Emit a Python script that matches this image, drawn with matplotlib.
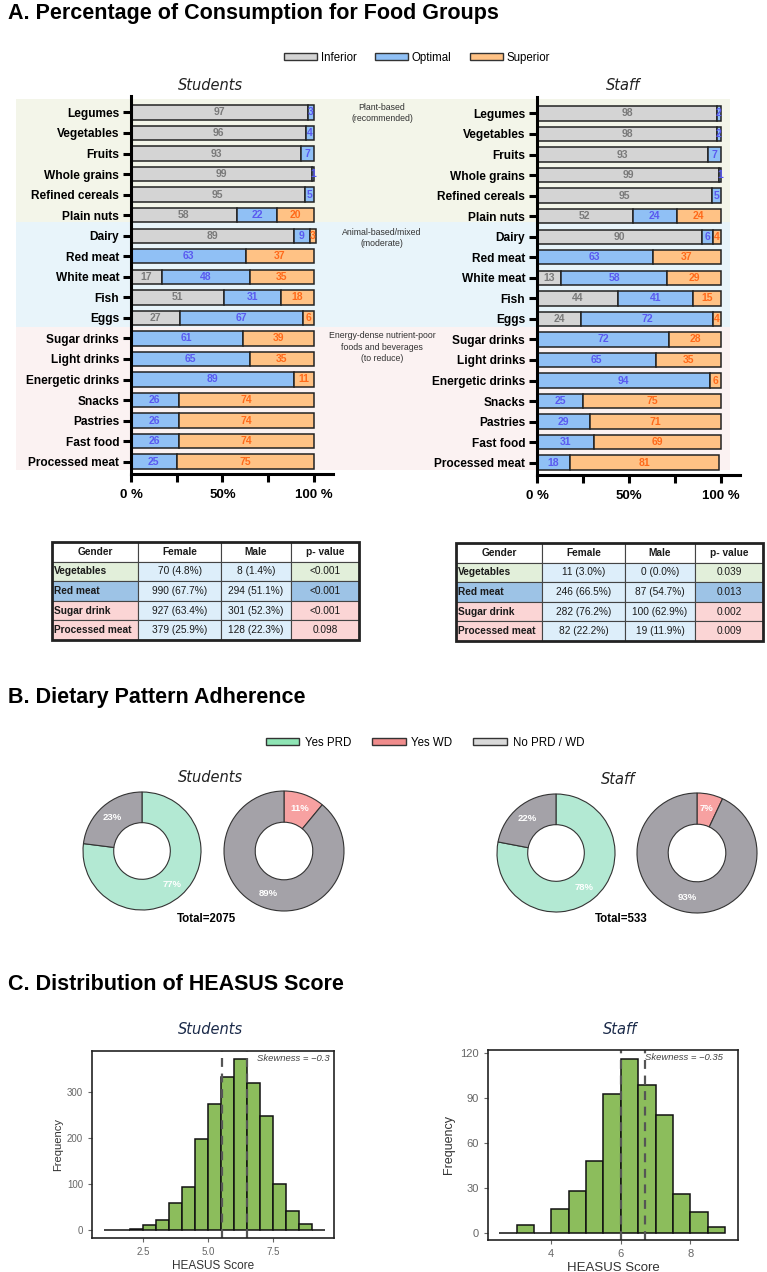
import numpy as np
import matplotlib
matplotlib.use('Agg')
import matplotlib.pyplot as plt
from matplotlib.patches import Rectangle, Patch

plt.rcParams['font.family'] = ['Liberation Sans', 'DejaVu Sans']

# ---- data ----
foods = ['Legumes', 'Vegetables', 'Fruits', 'Whole grains', 'Refined cereals', 'Plain nuts',
         'Dairy', 'Red meat', 'White meat', 'Fish', 'Eggs',
         'Sugar drinks', 'Light drinks', 'Energetic drinks', 'Snacks', 'Pastries',
         'Fast food', 'Processed meat']
stu_inferior = [97, 96, 93, 99, 95, 58, 89, 0, 17, 51, 27, 0, 0, 0, 0, 0, 0, 0]
stu_optimal = [3, 4, 7, 1, 5, 22, 9, 63, 48, 31, 67, 61, 65, 89, 26, 26, 26, 25]
stu_superior = [0, 0, 0, 0, 0, 20, 3, 37, 35, 18, 6, 39, 35, 11, 74, 74, 74, 75]
staff_inferior = [98, 98, 93, 99, 95, 52, 90, 0, 13, 44, 24, 0, 0, 0, 0, 0, 0, 0]
staff_optimal = [2, 2, 7, 1, 5, 24, 6, 63, 58, 41, 72, 72, 65, 94, 25, 29, 31, 18]
staff_superior = [0, 0, 0, 0, 0, 24, 4, 37, 29, 15, 4, 28, 35, 6, 75, 71, 69, 81]
group_labels = ['Plant-based\n(recommended)', 'Animal-based/mixed\n(moderate)',
                'Energy-dense nutrient-poor\nfoods and beverages\n(to reduce)']

tbl_cols = ['Gender', 'Female', 'Male', 'p- value']
tbl_rows = ['Vegetables', 'Red meat', 'Sugar drink', 'Processed meat']
stu_female = ['70 (4.8%)', '990 (67.7%)', '927 (63.4%)', '379 (25.9%)']
stu_male = ['8 (1.4%)', '294 (51.1%)', '301 (52.3%)', '128 (22.3%)']
stu_p = ['<0.001', '<0.001', '<0.001', '0.098']
staff_female = ['11 (3.0%)', '246 (66.5%)', '282 (76.2%)', '82 (22.2%)']
staff_male = ['0 (0.0%)', '87 (54.7%)', '100 (62.9%)', '19 (11.9%)']
staff_p = ['0.039', '0.013', '0.002', '0.009']

pattern_names = ['Yes PRD', 'Yes WD', 'No PRD / WD']
stu_prd = [77, 23]
stu_wd = [11, 89]
staff_prd = [78, 22]
staff_wd = [7, 93]
stu_total = 2075
staff_total = 533

stu_bins = [1.0, 1.5, 2.0, 2.5, 3.0, 3.5, 4.0, 4.5, 5.0, 5.5, 6.0, 6.5, 7.0, 7.5, 8.0, 8.5, 9.0]
stu_counts = [0, 0, 2, 12, 23, 60, 93, 198, 275, 333, 372, 319, 248, 101, 41, 14, 0]
stu_lines = [5.55, 6.5]
staff_bins = [2.5, 3.0, 3.5, 4.0, 4.5, 5.0, 5.5, 6.0, 6.5, 7.0, 7.5, 8.0, 8.5]
staff_counts = [0, 5, 0, 16, 28, 48, 93, 116, 99, 79, 26, 14, 4]
staff_lines = [6.0, 6.7]

# ---- colours ----
c_inf, c_opt, c_sup = '#d4d4d4', '#90c0f5', '#ffc285'
t_inf, t_opt, t_sup = '#7a7a7a', '#5a5af0', '#ff6a1a'
band_cols = ['#f3f5e9', '#e8f4fa', '#fbf2f2']
row_cols = ['#e2efda', '#9dc3e6', '#fbd5d5', '#fbd5d5']

W, H = 767, 1272
fig = plt.figure(figsize=(W / 100, H / 100), dpi=100)


def px_axes(x0, y0, x1, y1):
    return fig.add_axes([x0 / W, 1 - y1 / H, (x1 - x0) / W, (y1 - y0) / H])


# ================= A =================
fig.text(8 / W, 1 - 14 / H, 'A. Percentage of Consumption for Food Groups',
         fontsize=15.5, fontweight='bold', va='center')

# background bands
for (y0, y1), col in zip([(99, 222), (222, 327), (327, 470)], band_cols):
    fig.add_artist(Rectangle((16 / W, 1 - y1 / H), (730 - 16) / W, (y1 - y0) / H,
                             transform=fig.transFigure, facecolor=col,
                             edgecolor='none', zorder=-5))

for txt, yc in zip(group_labels, [113, 238, 347]):
    fig.text(382 / W, 1 - yc / H, txt, fontsize=6.3, ha='center', va='center',
             color='#333', linespacing=1.3)

handles = [Patch(facecolor=c_inf, edgecolor='#333', label='Inferior'),
           Patch(facecolor=c_opt, edgecolor='#333', label='Optimal'),
           Patch(facecolor=c_sup, edgecolor='#333', label='Superior')]
fig.legend(handles=handles, loc='center', bbox_to_anchor=(417 / W, 1 - 58 / H),
           ncol=3, frameon=False, fontsize=8.3, handlelength=2.9, handleheight=0.55,
           columnspacing=1.6, handletextpad=0.3)


def stacked(ax, inf, opt, sup):
    y = np.arange(len(foods))
    left = np.zeros(len(foods))
    for vals, fc, tc in [(inf, c_inf, t_inf), (opt, c_opt, t_opt), (sup, c_sup, t_sup)]:
        vals = np.array(vals, float)
        m = vals > 0
        ax.barh(y[m], vals[m], left=left[m], height=0.7, color=fc,
                edgecolor='#222', linewidth=1.1)
        for yi, l, v in zip(y[m], left[m], vals[m]):
            ax.text(l + v / 2, yi, str(int(v)), ha='center', va='center',
                    color=tc, fontsize=7.5, fontweight='bold')
        left += vals
    ax.set_xlim(0, 110.5)
    ax.set_ylim(17.6, -0.8)
    ax.set_facecolor('none')
    for s in ['top', 'right']:
        ax.spines[s].set_visible(False)
    for s in ['left', 'bottom']:
        ax.spines[s].set_linewidth(2.2)
    ax.set_yticks(y)
    ax.set_yticklabels(foods, fontweight='bold', fontsize=8.6)
    ax.set_xticks([0, 50, 100])
    ax.set_xticklabels(['0 %', '50%', '100 %'], fontweight='bold', fontsize=9.5)
    ax.set_xticks([25, 75], minor=True)
    ax.tick_params(axis='both', which='both', width=2.2, length=6)
    ax.tick_params(axis='y', pad=2.5)
    ax.tick_params(axis='x', pad=5)


ax_s = px_axes(131, 96, 333, 474)
stacked(ax_s, stu_inferior, stu_optimal, stu_superior)
ax_t = px_axes(537, 97, 740, 475)
stacked(ax_t, staff_inferior, staff_optimal, staff_superior)
fig.text(210 / W, 1 - 85 / H, 'Students', fontsize=10.5, style='italic',
         family='DejaVu Sans', ha='center', va='center', color='#222')
fig.text(623 / W, 1 - 86 / H, 'Staff', fontsize=10.5, style='italic',
         family='DejaVu Sans', ha='center', va='center', color='#222')


# tables
def draw_table(ax, female, male, pvals):
    widths = [86, 83, 70, 68]
    xs = np.concatenate([[0], np.cumsum(widths)])
    ax.set_xlim(0, xs[-1])
    ax.set_ylim(5, 0)
    ax.axis('off')
    cells = [tbl_cols] + [[r, f, m, p] for r, f, m, p in zip(tbl_rows, female, male, pvals)]
    for i, row in enumerate(cells):
        for j, txt in enumerate(row):
            if i == 0:
                fc = 'white'
            elif j in (0, 3):
                fc = row_cols[i - 1]
            else:
                fc = '#ddeefa'
            ax.add_patch(Rectangle((xs[j], i), widths[j], 1, facecolor=fc,
                                   edgecolor='#444', lw=0.8))
            if j == 0 and i > 0:
                ax.text(xs[j] + 2, i + 0.5, txt, ha='left', va='center',
                        fontsize=7.3, fontweight='bold', color='#1a1a1a')
            else:
                ax.text(xs[j] + widths[j] / 2, i + 0.5, txt, ha='center', va='center',
                        fontsize=7.3, fontweight='bold' if i == 0 else 'normal',
                        color='#1a1a1a')
    ax.add_patch(Rectangle((0, 0), xs[-1], 5, fill=False, edgecolor='#222', lw=2,
                           clip_on=False))


draw_table(px_axes(52, 542, 359, 640), stu_female, stu_male, stu_p)
draw_table(px_axes(456, 543, 763, 641), staff_female, staff_male, staff_p)

# ================= B =================
fig.text(8 / W, 1 - 698 / H, 'B. Dietary Pattern Adherence',
         fontsize=15.5, fontweight='bold', va='center')
leg_b = [Patch(facecolor='#8fe5b5', edgecolor='#333', label=pattern_names[0]),
         Patch(facecolor='#f08c8c', edgecolor='#333', label=pattern_names[1]),
         Patch(facecolor='#d9d9d9', edgecolor='#333', label=pattern_names[2])]
fig.legend(handles=leg_b, loc='center', bbox_to_anchor=(425 / W, 1 - 743 / H),
           ncol=3, frameon=False, fontsize=8.3, handlelength=2.9, handleheight=0.55,
           columnspacing=1.8, handletextpad=0.5)

g_green, g_pink, g_gray = '#b3e9d3', '#f7a1a1', '#a4a2a8'


def donut(cx, cy, r, vals, colors):
    ax = px_axes(cx - 1.1 * r, cy - 1.1 * r, cx + 1.1 * r, cy + 1.1 * r)
    ax.pie(vals, colors=colors, startangle=90, counterclock=False, radius=1,
           wedgeprops=dict(width=0.52, edgecolor='#333', linewidth=0.8),
           autopct='%.0f%%', pctdistance=0.76,
           textprops=dict(color='white', fontsize=6.8, fontweight='bold'))
    ax.set_xlim(-1.1, 1.1)
    ax.set_ylim(-1.1, 1.1)


donut(142, 851, 59, stu_prd, [g_green, g_gray])
donut(284, 851, 60, stu_wd, [g_pink, g_gray])
donut(556, 853, 59, staff_prd, [g_green, g_gray])
donut(697, 853, 60, staff_wd, [g_pink, g_gray])
fig.text(210 / W, 1 - 777 / H, 'Students', fontsize=10.5, style='italic',
         family='DejaVu Sans', ha='center', va='center', color='#222')
fig.text(618 / W, 1 - 780 / H, 'Staff', fontsize=10.5, style='italic',
         family='DejaVu Sans', ha='center', va='center', color='#222')
fig.text(207 / W, 1 - 919 / H, f'Total={stu_total}', fontsize=8.3, fontweight='bold',
         ha='center', va='center')
fig.text(621 / W, 1 - 919 / H, f'Total={staff_total}', fontsize=8.3, fontweight='bold',
         ha='center', va='center')

# ================= C =================
fig.text(8 / W, 1 - 985 / H, 'C. Distribution of HEASUS Score',
         fontsize=15.5, fontweight='bold', va='center')


def hist(ax, bins, counts, lines, xlim, ylim, xt, yt, skew, skew_x, skew_ha, fs):
    ax.bar(bins, counts, width=0.5, align='edge', color='#8cbd5c',
           edgecolor='#111', linewidth=1.1)
    for xl in lines:
        ax.axvline(xl, color='#555', ls=(0, (4, 3)), lw=1.6)
    ax.set_xlim(*xlim)
    ax.set_ylim(*ylim)
    ax.set_xticks(xt)
    ax.set_yticks(yt)
    ax.tick_params(colors='#666', labelsize=fs - 1.5, length=3, width=0.8)
    for s in ax.spines.values():
        s.set_linewidth(1.2)
        s.set_color('#222')
    ax.set_xlabel('HEASUS Score', fontsize=fs, color='#333', labelpad=2)
    ax.set_ylabel('Frequency', fontsize=fs - 0.5, color='#333')
    ax.text(skew_x, 0.985, skew, transform=ax.transAxes, ha=skew_ha, va='top',
            fontsize=6.8, style='italic', color='#444')


ax_h1 = px_axes(92, 1051, 334, 1238)
hist(ax_h1, stu_bins, stu_counts, stu_lines, (0.53, 9.85), (-17, 389),
     [2.5, 5.0, 7.5], [0, 100, 200, 300], 'Skewness = \u22120.3', 0.98, 'right', 8.5)
ax_h1.yaxis.set_label_coords(-0.12, 0.5)

ax_h2 = px_axes(488, 1050, 738, 1240)
hist(ax_h2, staff_bins, staff_counts, staff_lines, (2.18, 9.37), (-4.9, 122.2),
     [4, 6, 8], [0, 30, 60, 90, 120], 'Skewness = \u22120.35', 0.627, 'left', 9.5)
ax_h2.yaxis.set_label_coords(-0.13, 0.5)

fig.text(210 / W, 1 - 1029 / H, 'Students', fontsize=10.5, style='italic',
         family='DejaVu Sans', ha='center', va='center', color='#1c2b4a')
fig.text(620 / W, 1 - 1030 / H, 'Staff', fontsize=10.5, style='italic',
         family='DejaVu Sans', ha='center', va='center', color='#1c2b4a')

fig.savefig('out.png', dpi=100)
